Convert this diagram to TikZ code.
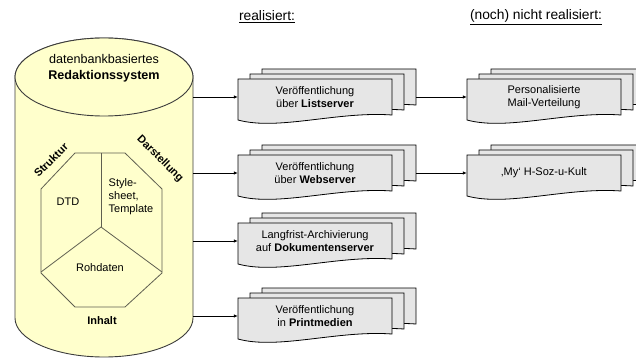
\documentclass[tikz,border=0pt]{standalone}
\usepackage{fontspec}
\setmainfont{Liberation Sans}
\usetikzlibrary{arrows.meta}
\definecolor{cylfill}{RGB}{255,255,204}
\definecolor{docfill}{RGB}{230,230,230}
\definecolor{cylline}{RGB}{60,60,60}
\definecolor{octline}{RGB}{95,95,80}
\tikzset{
  docpage/.style={draw=black, fill=docfill, line width=0.8pt},
  doctext/.style={align=center, font=\fontsize{11}{12.5}\selectfont, minimum width=154pt, minimum height=36pt, inner sep=0pt},
  conn/.style={draw=black, line width=0.7pt, -{Latex[length=4pt,width=3.5pt]}},
  titletext/.style={font=\fontsize{13.8}{15}\selectfont, inner sep=0pt},
  cyltext/.style={font=\fontsize{11}{13}\selectfont, inner sep=0pt},
  octpath/.style={draw=octline, line width=0.8pt},
}
\newcommand\docstack[3]{%
  \begin{scope}[shift={#2}]
    \foreach \dx/\dy in {24/-10, 12/-5, 0/0} {
      \begin{scope}[shift={(\dx,\dy)}]
        \path[docpage] (0,0) -- (154,0) -- (154,36) .. controls (100,32) and (40,52) .. (0,41) -- cycle;
      \end{scope}
    }
    \node[doctext] (#1) at (77,18) {#3};
    \coordinate (#1-b) at (178,18);
  \end{scope}}
\begin{document}
\begin{tikzpicture}[x=1pt,y=-1pt]
\useasboundingbox (0,0) rectangle (636,358);
% cylinder
\path[fill=cylfill, draw=cylline, line width=0.9pt]
  (15,77) -- (15,318) arc[start angle=180, end angle=0, x radius=89, y radius=39]
  -- (193,77) arc[start angle=0, end angle=-180, x radius=89, y radius=39] -- cycle;
\path[fill=cylfill, draw=cylline, line width=0.9pt] (104,77) ellipse [x radius=89, y radius=39];
\node[inner sep=0pt, minimum width=178pt, minimum height=319pt] (db) at (104,197.5) {};
\node[align=center, font=\fontsize{12.6}{16}\selectfont, inner sep=0pt] (dbtitle) at (104,68) {datenbankbasiertes\\\textbf{Redaktionssystem}};
% octagon
\path[octpath] (75,153) -- (125,153) -- (162,189) -- (162,273) -- (125,307) -- (75,307) -- (41,273) -- (41,189) -- cycle;
\path[octpath] (101,153) -- (101,227);
\path[octpath] (41,272) -- (101,227) -- (162,272);
\node[cyltext] (dtd) at (68,202) {DTD};
\node[cyltext, align=left] (style) at (131,197) {Style-\\sheet,\\Template};
\node[cyltext] (roh) at (100,268) {Rohdaten};
\node[cyltext, font=\fontsize{11}{13}\selectfont\bfseries] (inhalt) at (102,321) {Inhalt};
\node[cyltext, font=\fontsize{11}{13}\selectfont\bfseries, rotate=45] (struktur) at (51,160) {Struktur};
\node[cyltext, font=\fontsize{11}{13}\selectfont\bfseries, rotate=-45] (darst) at (160,159) {Darstellung};
% titles
\node[titletext] (t1) at (267,17) {\underline{realisiert:}};
\node[titletext] (t2) at (536,17) {\underline{(noch) nicht realisiert:}};
% document stacks
\docstack{l1}{(238,79)}{Veröffentlichung\\über \textbf{Listserver}}
\docstack{l2}{(238,155)}{Veröffentlichung\\über \textbf{Webserver}}
\docstack{l3}{(238,223)}{Langfrist-Archivierung\\auf \textbf{Dokumentenserver}}
\docstack{l4}{(238,298)}{Veröffentlichung\\in \textbf{Printmedien}}
\docstack{r1}{(467,79)}{Personalisierte\\Mail-Verteilung}
\docstack{r2}{(467,155)}{‚My‘ H-Soz-u-Kult}
% connectors
\draw[conn] (db.east |- l1.west) -- (l1.west);
\draw[conn] (db.east |- l2.west) -- (l2.west);
\draw[conn] (db.east |- l3.west) -- (l3.west);
\draw[conn] (db.east |- l4.west) -- (l4.west);
\draw[conn] (l1-b) -- (r1.west);
\draw[conn] (l2-b) -- (r2.west);
\end{tikzpicture}
\end{document}
